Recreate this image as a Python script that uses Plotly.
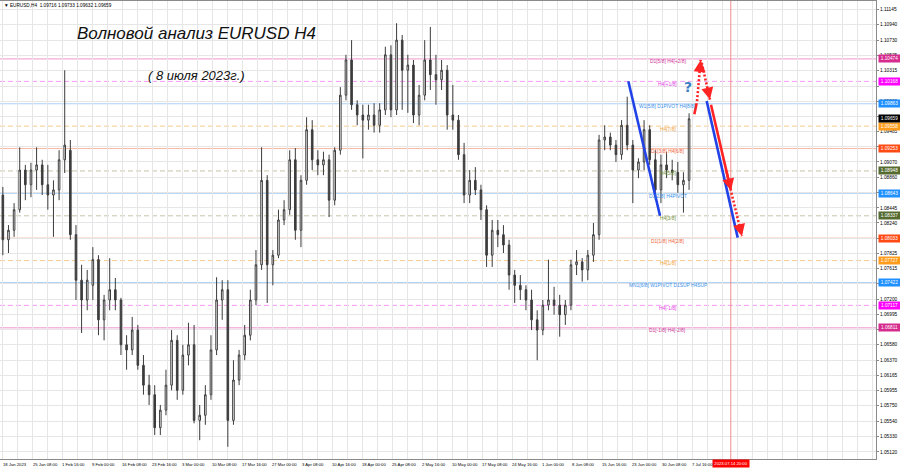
import plotly.graph_objects as go
import pandas as pd

# ---------------- data ----------------
days = pd.bdate_range("2023-01-18", "2023-07-07").strftime("%Y-%m-%d").tolist()
bars_per_day = 6  # H4 bars per trading day

opens = [1.0862, 1.0801, 1.0814, 1.0842, 1.0896, 1.0876, 1.0896, 1.0903, 1.0876, 1.0862,
         1.0869, 1.0910, 1.0923, 1.0808, 1.0746, 1.0719, 1.0739, 1.0774, 1.0692, 1.0719,
         1.0733, 1.0719, 1.0658, 1.0651, 1.0678, 1.0630, 1.0603, 1.0590, 1.0545, 1.0569,
         1.0603, 1.0664, 1.0596, 1.0644, 1.0658, 1.0555, 1.0562, 1.0590, 1.0651, 1.0719,
         1.0733, 1.0555, 1.0610, 1.0644, 1.0671, 1.0719, 1.0767, 1.0882, 1.0767, 1.0780,
         1.0828, 1.0842, 1.0910, 1.0814, 1.0882, 1.0951, 1.0910, 1.0903, 1.0910, 1.0855,
         1.0923, 1.0998, 1.1046, 1.0985, 1.0971, 1.0964, 1.0971, 1.0957, 1.0978, 1.1053,
         1.0978, 1.1073, 1.1032, 1.1039, 1.0971, 1.0998, 1.1046, 1.1026, 1.1019, 1.1032,
         1.0971, 1.0964, 1.0917, 1.0862, 1.0882, 1.0869, 1.0842, 1.0780, 1.0814, 1.0808,
         1.0794, 1.0753, 1.0739, 1.0733, 1.0719, 1.0692, 1.0678, 1.0712, 1.0719, 1.0712,
         1.0699, 1.0712, 1.0767, 1.0771, 1.0760, 1.0780, 1.0808, 1.0937, 1.0941, 1.0930,
         1.0917, 1.0957, 1.0930, 1.0896, 1.0907, 1.0951, 1.0910, 1.0869, 1.0903, 1.0896,
         1.0893, 1.0876, 1.0882]
highs = [1.0873, 1.0821, 1.0851, 1.0927, 1.0903, 1.0906, 1.0927, 1.0910, 1.0903, 1.0882,
         1.0923, 1.1032, 1.0937, 1.0821, 1.0767, 1.0760, 1.0791, 1.0780, 1.0726, 1.0776,
         1.0749, 1.0722, 1.0671, 1.0696, 1.0685, 1.0644, 1.0617, 1.0603, 1.0576, 1.0624,
         1.0678, 1.0671, 1.0658, 1.0688, 1.0685, 1.0576, 1.0603, 1.0671, 1.0750, 1.0746,
         1.0746, 1.0637, 1.0651, 1.0685, 1.0733, 1.0787, 1.0927, 1.0889, 1.0787, 1.0842,
         1.0855, 1.0923, 1.0926, 1.0889, 1.0968, 1.0964, 1.0923, 1.0921, 1.0917, 1.0927,
         1.1009, 1.1053, 1.1073, 1.0991, 1.0985, 1.0985, 1.0987, 1.0987, 1.1064, 1.1066,
         1.1096, 1.1080, 1.1053, 1.1046, 1.1012, 1.1073, 1.1091, 1.1053, 1.1046, 1.1039,
         1.1012, 1.0971, 1.0933, 1.0896, 1.0900, 1.0876, 1.0848, 1.0828, 1.0828, 1.0821,
         1.0801, 1.0760, 1.0753, 1.0739, 1.0733, 1.0705, 1.0719, 1.0774, 1.0737, 1.0726,
         1.0719, 1.0774, 1.0787, 1.0776, 1.0787, 1.0824, 1.0944, 1.0957, 1.0947, 1.0937,
         1.0964, 1.0996, 1.0937, 1.0912, 1.0964, 1.0957, 1.0923, 1.0917, 1.0921, 1.0910,
         1.0907, 1.0893, 1.09733]
lows = [1.0780, 1.0783, 1.0805, 1.0838, 1.0855, 1.0859, 1.0869, 1.0862, 1.0842, 1.0805,
        1.0855, 1.0892, 1.0801, 1.0719, 1.0674, 1.0705, 1.0719, 1.0671, 1.0664, 1.0705,
        1.0705, 1.0644, 1.0624, 1.0644, 1.0624, 1.0590, 1.0576, 1.0535, 1.0535, 1.0562,
        1.0596, 1.0583, 1.0590, 1.0630, 1.0551, 1.0528, 1.0549, 1.0583, 1.0644, 1.0692,
        1.0519, 1.0549, 1.0603, 1.0637, 1.0664, 1.0712, 1.0760, 1.0715, 1.0739, 1.0776,
        1.0821, 1.0835, 1.0801, 1.0791, 1.0876, 1.0896, 1.0889, 1.0889, 1.0832, 1.0848,
        1.0917, 1.0991, 1.0978, 1.0957, 1.0912, 1.0951, 1.0947, 1.0947, 1.0971, 1.0968,
        1.0971, 1.0978, 1.0974, 1.0960, 1.0957, 1.0991, 1.1005, 1.0985, 1.1005, 1.0951,
        1.0951, 1.0910, 1.0851, 1.0851, 1.0862, 1.0828, 1.0764, 1.0764, 1.0791, 1.0783,
        1.0733, 1.0715, 1.0719, 1.0705, 1.0678, 1.0637, 1.0671, 1.0705, 1.0699, 1.0669,
        1.0685, 1.0705, 1.0753, 1.0744, 1.0746, 1.0771, 1.0801, 1.0923, 1.0923, 1.0907,
        1.0910, 1.0923, 1.0851, 1.0885, 1.0896, 1.0903, 1.0855, 1.0851, 1.0885, 1.0882,
        1.0865, 1.0838, 1.0869]
closes = [1.0801, 1.0814, 1.0842, 1.0896, 1.0876, 1.0896, 1.0903, 1.0876, 1.0862, 1.0869,
          1.0910, 1.0930, 1.0808, 1.0746, 1.0719, 1.0746, 1.0774, 1.0692, 1.0719, 1.0733,
          1.0719, 1.0658, 1.0651, 1.0678, 1.0630, 1.0603, 1.0590, 1.0545, 1.0569, 1.0603,
          1.0664, 1.0596, 1.0644, 1.0658, 1.0555, 1.0562, 1.0590, 1.0651, 1.0719, 1.0733,
          1.0555, 1.0610, 1.0644, 1.0671, 1.0719, 1.0767, 1.0882, 1.0767, 1.0780, 1.0828,
          1.0842, 1.0910, 1.0814, 1.0882, 1.0951, 1.0910, 1.0903, 1.0910, 1.0855, 1.0923,
          1.0998, 1.1046, 1.0985, 1.0971, 1.0964, 1.0971, 1.0957, 1.0978, 1.1053, 1.0978,
          1.1073, 1.1032, 1.1039, 1.0971, 1.0998, 1.1046, 1.1026, 1.1019, 1.1032, 1.0971,
          1.0964, 1.0917, 1.0862, 1.0882, 1.0869, 1.0842, 1.0780, 1.0814, 1.0808, 1.0794,
          1.0753, 1.0739, 1.0733, 1.0719, 1.0692, 1.0678, 1.0712, 1.0719, 1.0712, 1.0699,
          1.0712, 1.0767, 1.0771, 1.0760, 1.0780, 1.0808, 1.0937, 1.0941, 1.0930, 1.0917,
          1.0957, 1.0930, 1.0896, 1.0907, 1.0951, 1.0910, 1.0869, 1.0903, 1.0896, 1.0893,
          1.0876, 1.0882, 1.09659]

time_labels = ["18 Jan 2023", "25 Jan 08:00", "1 Feb 16:00", "9 Feb 00:00", "16 Feb 08:00",
               "23 Feb 16:00", "3 Mar 00:00", "10 Mar 08:00", "17 Mar 16:00", "27 Mar 00:00",
               "3 Apr 08:00", "10 Apr 16:00", "18 Apr 00:00", "25 Apr 08:00", "2 May 16:00",
               "10 May 00:00", "17 May 08:00", "24 May 16:00", "1 Jun 00:00", "8 Jun 08:00",
               "15 Jun 16:00", "23 Jun 00:00", "30 Jun 08:00", "7 Jul 16:00"]
bars_per_label = 32

price_ticks = [1.11145, 1.10940, 1.10730, 1.10525, 1.10315, 1.10105, 1.09900, 1.09695,
               1.09485, 1.09280, 1.09070, 1.08860, 1.08655, 1.08445, 1.08240, 1.08030,
               1.07825, 1.07615, 1.07410, 1.07200, 1.06995, 1.06790, 1.06580, 1.06370,
               1.06165, 1.05955, 1.05750, 1.05540, 1.05330, 1.05120]
# tick labels hidden behind the level boxes in the reference
hidden_ticks = [1.10105, 1.09695, 1.09280, 1.08655, 1.08030, 1.07410, 1.06790]

level_prices = [1.10474, 1.10168, 1.09863, 1.09558, 1.09253, 1.08948, 1.08643,
                1.08337, 1.08033, 1.07727, 1.07422, 1.07117, 1.06811]
level_names = ["D1[5/8] H4[+2/8]", "H4[+1/8]", "W1[5/8] D1PIVOT H4[8/8]", "H4[7/8]",
               "D1[3/8] H4[6/8]", "H4[5/8]", "D1[2/8] H4PIVOT", "H4[3/8]",
               "D1[1/8] H4[2/8]", "H4[1/8]", "MN1[6/8] W1PIVOT D1SUP H4SUP",
               "H4[-1/8]", "D1[-1/8] H4[-2/8]"]
level_kinds = ["pink", "magenta", "blue", "orange", "red", "olive", "blue",
               "olive", "red", "orange", "blue2", "magenta", "pink"]

last_price = 1.09659
marker_bar = 779
marker_label = "2023.07.14 20:00"

# wave drawings (bar index, price)
wave_blue_1 = [(669.7, 1.10169), (703.5, 1.08338)]
wave_blue_2 = [(753.3, 1.0990), (786.4, 1.0804)]
red_solid_up = [(740.1, 1.0972), (742.6, 1.0987)]
red_dot_up = [(743.0, 1.0990), (746.9, 1.1046)]
red_dot_down_1 = [(748.0, 1.1042), (756.8, 1.0992)]
red_solid_down = [(757.9, 1.0985), (779.2, 1.0868)]
red_dot_down_2 = [(779.7, 1.0865), (790.9, 1.0806)]
question_pos = (733.7, 1.10096)

# ---------------- styles ----------------
styles = {
    "pink":    dict(line="#ef95cf", dash="solid", text="#d0369a", box="#d62c8e"),
    "magenta": dict(line="#f59af5", dash="5px,3px", text="#e23ce2", box="#ff00ff"),
    "blue":    dict(line="#a9d0f6", dash="solid", text="#3a8fe8", box="#1e90ff"),
    "blue2":   dict(line="#6aaef2", dash="solid", text="#3a8fe8", box="#1e90ff"),
    "orange":  dict(line="#f7cb95", dash="5px,3px", text="#f2a23a", box="#ff9c1c"),
    "red":     dict(line="#f8b7a0", dash="solid", text="#f2643c", box="#ff4a14"),
    "olive":   dict(line="#c9c4aa", dash="5px,3px", text="#76913a", box="#556b2f"),
}
BLUE = "#2142e6"
RED = "#ff2323"
AXIS_FONT = "Liberation Sans, Arial, sans-serif"
CANDLE = "#3c3c3c"

x_days = [bars_per_day * i + 2.5 for i in range(len(days))]

fig = go.Figure()
fig.add_trace(go.Candlestick(
    x=x_days, open=opens, high=highs, low=lows, close=closes,
    increasing=dict(line=dict(color=CANDLE, width=1), fillcolor="#ffffff"),
    decreasing=dict(line=dict(color=CANDLE, width=1), fillcolor=CANDLE),
    whiskerwidth=0, hoverinfo="skip", showlegend=False,
))

shapes = []
annotations = []


def price_box(p, color):
    annotations.append(dict(x=1, y=p, xref="paper", yref="y", text=f"{p:.5f}", showarrow=False,
                            xanchor="left", yanchor="middle", xshift=1.5, width=21, height=7,
                            align="center", valign="middle", bgcolor=color, borderpad=0,
                            font=dict(family=AXIS_FONT, size=4.7, color="#ffffff")))


# level lines + labels + price boxes
for p, name, kind in zip(level_prices, level_names, level_kinds):
    st = styles[kind]
    shapes.append(dict(type="line", xref="paper", x0=0, x1=1, yref="y", y0=p, y1=p,
                       line=dict(color=st["line"], width=1, dash=st["dash"]), layer="below"))
    annotations.append(dict(x=712, y=p, xref="x", yref="y", text=name, showarrow=False,
                            xanchor="center", yanchor="middle", yshift=-3,
                            font=dict(family=AXIS_FONT, size=4.9, color=st["text"])))
    price_box(p, st["box"])

price_box(last_price, "#000000")

# vertical marker line and time box
shapes.append(dict(type="line", xref="x", x0=marker_bar, x1=marker_bar, yref="paper", y0=0, y1=1,
                   line=dict(color="#f08c8c", width=1)))
annotations.append(dict(x=marker_bar, y=0, xref="x", yref="paper", text=marker_label,
                        showarrow=False, xanchor="center", yanchor="top", bgcolor="#ff0000",
                        width=36, height=7, borderpad=0,
                        font=dict(family=AXIS_FONT, size=4.2, color="#ffffff")))

# time labels
for k, lab in enumerate(time_labels):
    annotations.append(dict(x=k * bars_per_label, y=0, xref="x", yref="paper", text=lab,
                            showarrow=False, xanchor="left", yanchor="top", yshift=-0.5,
                            font=dict(family=AXIS_FONT, size=4.2, color="#000000")))


def seg(pts, color, dash, width=2.6):
    (x0, y0), (x1, y1) = pts
    shapes.append(dict(type="line", xref="x", yref="y", x0=x0, y0=y0, x1=x1, y1=y1,
                       line=dict(color=color, width=width, dash=dash)))


def head(pts, color):
    (x0, y0), (x1, y1) = pts
    tx = x1 - 0.25 * (x1 - x0)
    ty = y1 - 0.25 * (y1 - y0)
    annotations.append(dict(x=x1, y=y1, ax=tx, ay=ty, xref="x", yref="y", axref="x", ayref="y",
                            text="", showarrow=True, arrowhead=2, arrowsize=1, arrowwidth=2.4,
                            arrowcolor=color))


seg(wave_blue_1, BLUE, "solid")
seg(wave_blue_2, BLUE, "solid")
seg(red_solid_up, RED, "solid")
head(red_solid_up, RED)
seg(red_dot_up, RED, "2px,2px")
head(red_dot_up, RED)
seg(red_dot_down_1, RED, "2px,2px")
head(red_dot_down_1, RED)
seg(red_solid_down, RED, "solid")
head(red_solid_down, RED)
seg(red_dot_down_2, RED, "2px,2px")
head(red_dot_down_2, RED)

annotations.append(dict(x=question_pos[0], y=question_pos[1], xref="x", yref="y", text="<b>?</b>",
                        showarrow=False, font=dict(family="DejaVu Sans", size=14, color="#3b7fc2")))

# texts
annotations.append(dict(x=0.224, y=0.930, xref="paper", yref="paper", xanchor="center", yanchor="middle",
                        text="<i>Волновой анализ EURUSD H4</i>", showarrow=False,
                        font=dict(family="Liberation Sans, Arial", size=17, color="#111111")))
annotations.append(dict(x=0.224, y=0.838, xref="paper", yref="paper", xanchor="center", yanchor="middle",
                        text="<i>( 8 июля 2023г.)</i>", showarrow=False,
                        font=dict(family="Liberation Sans, Arial", size=13, color="#111111")))
annotations.append(dict(x=0.002, y=0.991, xref="paper", yref="paper",
                        text="▼ EURUSD,H4  1.09716 1.09733 1.09632 1.09659", showarrow=False,
                        xanchor="left", yanchor="middle",
                        font=dict(family=AXIS_FONT, size=4.7, color="#000000")))

fig.update_layout(
    width=900, height=468, autosize=False,
    margin=dict(l=0, r=24, t=1, b=9, pad=0),
    paper_bgcolor="#ffffff", plot_bgcolor="#ffffff",
    shapes=shapes, annotations=annotations, showlegend=False,
    hovermode=False, boxgap=0.6,
    xaxis=dict(range=[-0.53, 933.9], rangeslider=dict(visible=False),
               tickvals=[16 * k + 2 for k in range(59)], showticklabels=False,
               showgrid=True, gridcolor="#e6e6e6", gridwidth=1, zeroline=False,
               showline=True, linecolor="#8a8a8a", mirror=True, ticks=""),
    yaxis=dict(range=[1.05024, 1.11263], side="right", tickvals=price_ticks,
               ticktext=["" if v in hidden_ticks else f"{v:.5f}" for v in price_ticks],
               tickfont=dict(family=AXIS_FONT, size=4.8, color="#000000"),
               showgrid=True, gridcolor="#e6e6e6", gridwidth=1, zeroline=False,
               showline=True, linecolor="#8a8a8a", mirror=True, ticks="outside", ticklen=2,
               tickcolor="#8a8a8a", automargin=False),
)

fig.write_html("out.html", config={"displayModeBar": False},
               post_script="document.body.style.margin='0px';")
